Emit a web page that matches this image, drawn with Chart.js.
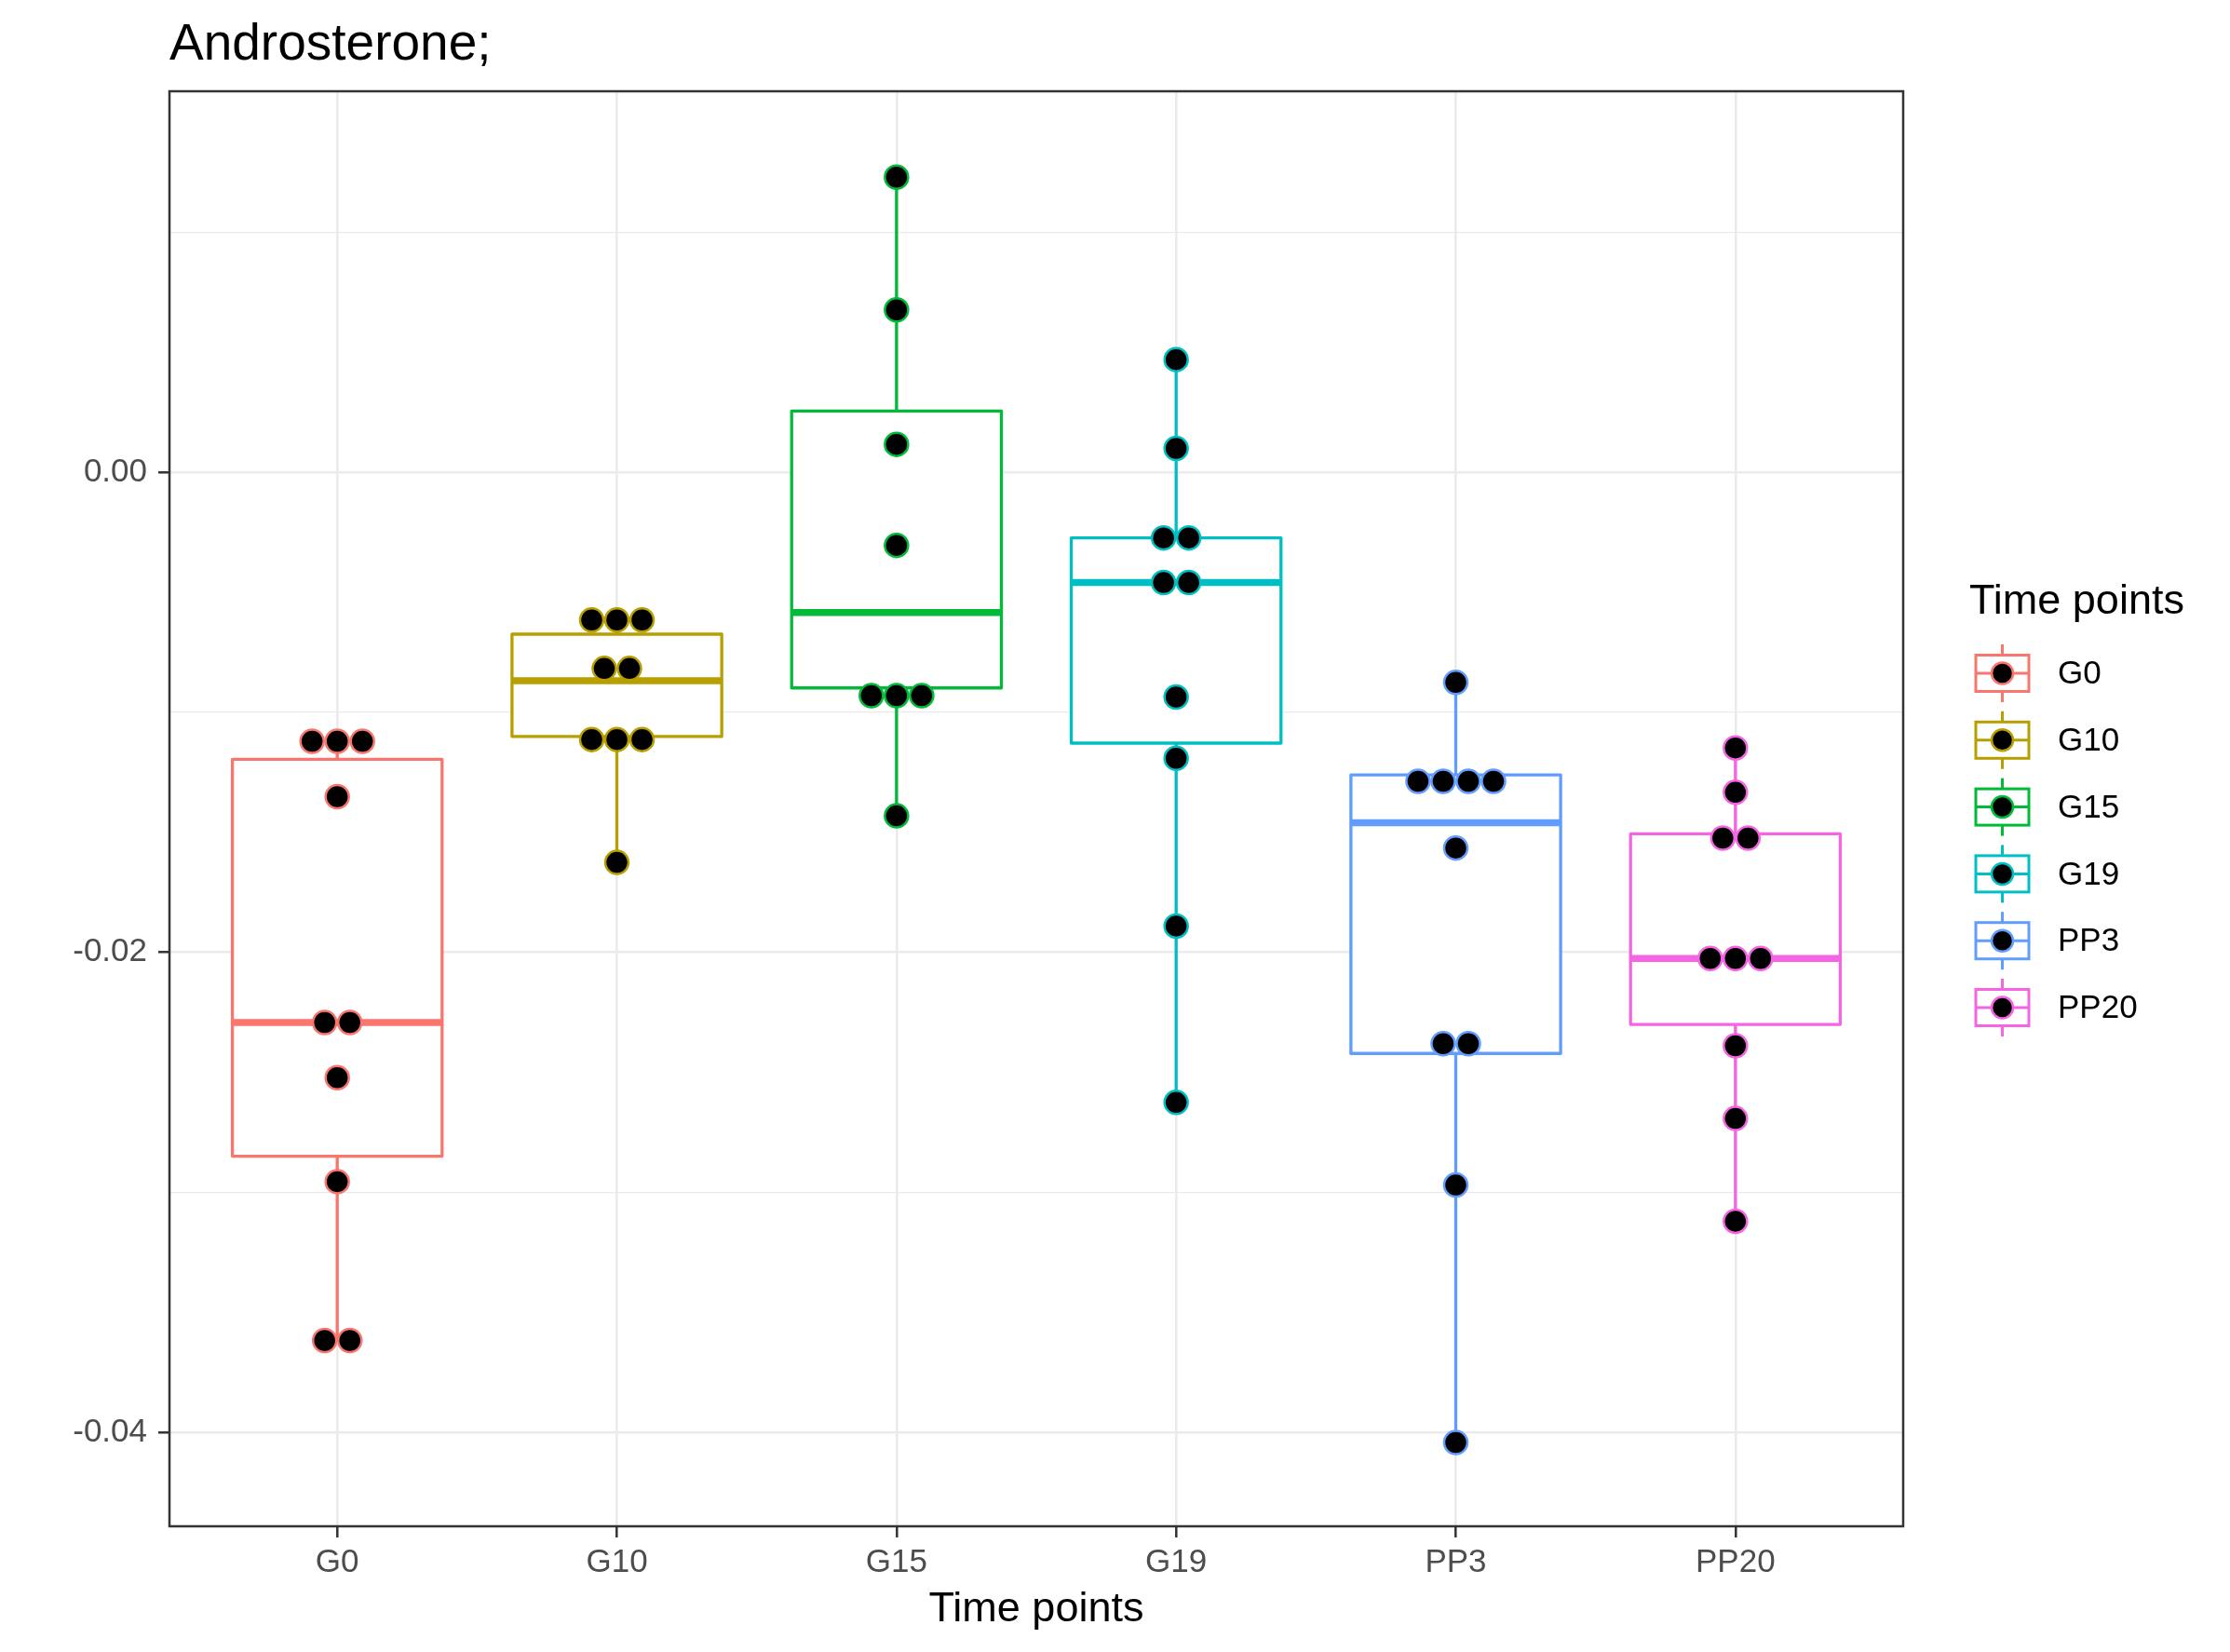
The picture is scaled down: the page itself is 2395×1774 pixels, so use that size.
<!DOCTYPE html>
<html>
<head>
<meta charset="utf-8">
<title>Androsterone;</title>
<script src="https://cdn.jsdelivr.net/npm/chart.js@4.4.1/dist/chart.umd.min.js"></script>
<style>
	body { margin: 0; background: #fff; }
	#wrap { width: 2395px; height: 1774px; }
</style>
</head>
<body>
<div id="wrap"><canvas id="boxChart" width="2395" height="1774"></canvas></div>
<script>
// categories and colours (ggplot hue palette)
const groups = ["G0", "G10", "G15", "G19", "PP3", "PP20"];
const groupColors = ["#F8766D", "#B79F00", "#00BA38", "#00BFC4", "#619CFF", "#F564E3"];

// box statistics
const boxMin = [-0.03618, -0.01626, -0.01432, -0.02626, -0.04043, -0.03121];
const boxQ1 = [-0.0285, -0.01101, -0.00899, -0.01129, -0.02422, -0.02301];
const boxMedian = [-0.02293, -0.00869, -0.00585, -0.0046, -0.01461, -0.02026];
const boxQ3 = [-0.01196, -0.00675, 0.00255, -0.00274, -0.01261, -0.01507];
const boxMax = [-0.01121, -0.00616, 0.01229, 0.00469, -0.00876, -0.01149];

// dot plot values per group (binned values repeat)
const dotsG0 = [-0.01121, -0.01121, -0.01121, -0.01352, -0.02293, -0.02293, -0.02523, -0.02956, -0.03618, -0.03618];
const dotsG10 = [-0.00616, -0.00616, -0.00616, -0.00818, -0.00818, -0.01114, -0.01114, -0.01114, -0.01626];
const dotsG15 = [0.01229, 0.00676, 0.00116, -0.00305, -0.00931, -0.00931, -0.00931, -0.01432];
const dotsG19 = [0.00469, 0.00099, -0.00274, -0.00274, -0.0046, -0.0046, -0.00937, -0.01192, -0.01891, -0.02626];
const dotsPP3 = [-0.00876, -0.01288, -0.01288, -0.01288, -0.01288, -0.01566, -0.02381, -0.02381, -0.0297, -0.04043];
const dotsPP20 = [-0.01149, -0.01334, -0.01525, -0.01525, -0.02026, -0.02026, -0.02026, -0.0239, -0.02693, -0.03121];
const dotValues = [dotsG0, dotsG10, dotsG15, dotsG19, dotsPP3, dotsPP20];

// y axis ticks
const yMajorTicks = [-0.04, -0.02, 0.0];
const yMajorLabels = ["-0.04", "-0.02", "0.00"];
const yMinorTicks = [-0.03, -0.01, 0.01];
const yRange = [-0.04392, 0.01587];

const FONT = "'Liberation Sans', Arial, Helvetica, sans-serif";
const BOX_WIDTH = 0.75;
const DOT_STEP = 0.09;

function stackDots(values, index) {
	const counts = {};
	values.forEach((v) => (counts[v] = (counts[v] || 0) + 1));
	const seen = {};
	return values.map((v) => {
		const k = seen[v] || 0;
		seen[v] = k + 1;
		const offset = (k - (counts[v] - 1) / 2) * DOT_STEP;
		return { x: index + 1 + offset, y: v };
	});
}

const boxPlugin = {
	id: "boxes",
	beforeDatasetsDraw(chart) {
		const { ctx, chartArea, scales } = chart;
		const xs = scales.x;
		const ys = scales.y;
		ctx.save();
		ctx.beginPath();
		ctx.rect(chartArea.left, chartArea.top, chartArea.right - chartArea.left, chartArea.bottom - chartArea.top);
		ctx.clip();
		groups.forEach((g, i) => {
			const cx = xs.getPixelForValue(i + 1);
			const x0 = xs.getPixelForValue(i + 1 - BOX_WIDTH / 2);
			const x1 = xs.getPixelForValue(i + 1 + BOX_WIDTH / 2);
			const yMin = ys.getPixelForValue(boxMin[i]);
			const yQ1 = ys.getPixelForValue(boxQ1[i]);
			const yMed = ys.getPixelForValue(boxMedian[i]);
			const yQ3 = ys.getPixelForValue(boxQ3[i]);
			const yMax = ys.getPixelForValue(boxMax[i]);
			ctx.strokeStyle = groupColors[i];
			ctx.lineWidth = 3.3;
			ctx.beginPath();
			ctx.moveTo(cx, yQ3);
			ctx.lineTo(cx, yMax);
			ctx.moveTo(cx, yQ1);
			ctx.lineTo(cx, yMin);
			ctx.stroke();
			ctx.fillStyle = "#ffffff";
			ctx.fillRect(x0, yQ3, x1 - x0, yQ1 - yQ3);
			ctx.lineJoin = "round";
			ctx.strokeRect(x0, yQ3, x1 - x0, yQ1 - yQ3);
			ctx.lineWidth = 7.5;
			ctx.beginPath();
			ctx.moveTo(x0, yMed);
			ctx.lineTo(x1, yMed);
			ctx.stroke();
		});
		ctx.restore();
	},
	afterDatasetsDraw(chart) {
		const { ctx, chartArea } = chart;
		ctx.save();
		ctx.strokeStyle = "#333333";
		ctx.lineWidth = 2.5;
		ctx.strokeRect(chartArea.left, chartArea.top, chartArea.right - chartArea.left, chartArea.bottom - chartArea.top);
		ctx.restore();
	},
	afterDraw(chart) {
		// legend "Time points"
		const ctx = chart.ctx;
		ctx.save();
		ctx.fillStyle = "#000000";
		ctx.font = "45px " + FONT;
		ctx.textAlign = "left";
		ctx.textBaseline = "alphabetic";
		ctx.fillText("Time points", 2115, 659);
		groups.forEach((g, i) => {
			const cy = 723 + i * 71.8;
			const cx = 2150.5;
			ctx.strokeStyle = groupColors[i];
			ctx.lineWidth = 3;
			ctx.beginPath();
			ctx.moveTo(cx, cy - 31);
			ctx.lineTo(cx, cy + 31);
			ctx.stroke();
			ctx.fillStyle = "#ffffff";
			ctx.fillRect(cx - 28.5, cy - 19.5, 57, 39);
			ctx.strokeRect(cx - 28.5, cy - 19.5, 57, 39);
			ctx.beginPath();
			ctx.moveTo(cx - 28.5, cy);
			ctx.lineTo(cx + 28.5, cy);
			ctx.stroke();
			ctx.beginPath();
			ctx.arc(cx, cy, 11.5, 0, Math.PI * 2);
			ctx.fillStyle = "#000000";
			ctx.fill();
			ctx.lineWidth = 2.5;
			ctx.stroke();
			ctx.fillStyle = "#000000";
			ctx.font = "35px " + FONT;
			ctx.textBaseline = "middle";
			ctx.fillText(g, 2210, cy + 1.5);
		});
		ctx.restore();
	},
};

const datasets = groups.map((g, i) => ({
	label: g,
	data: stackDots(dotValues[i], i),
	pointRadius: 12.5,
	pointHoverRadius: 12.5,
	pointBackgroundColor: "#000000",
	pointBorderColor: groupColors[i],
	pointBorderWidth: 2.5,
	showLine: false,
}));

const ctx = document.getElementById("boxChart").getContext("2d");

new Chart(ctx, {
	type: "scatter",
	data: { datasets: datasets },
	plugins: [boxPlugin],
	options: {
		responsive: false,
		animation: false,
		devicePixelRatio: 1,
		layout: { padding: { top: 0, left: 0, bottom: 0, right: 351 } },
		plugins: {
			legend: { display: false },
			tooltip: { enabled: false },
			title: {
				display: true,
				text: "Androsterone;",
				align: "start",
				fullSize: false,
				color: "#000000",
				font: { family: FONT, size: 55, weight: "normal" },
				padding: { top: 15.5, bottom: 16.5 },
			},
		},
		scales: {
			x: {
				type: "linear",
				min: 0.4,
				max: 6.6,
				afterBuildTicks: (scale) => {
					scale.ticks = groups.map((g, i) => ({ value: i + 1 }));
				},
				afterFit: (scale) => {
					scale.height = 135;
				},
				border: { display: false },
				grid: {
					color: "#EBEBEB",
					lineWidth: 2.6,
					drawTicks: true,
					tickLength: 12,
					tickWidth: 2.5,
					tickColor: "#333333",
				},
				ticks: {
					padding: 6.5,
					color: "#4D4D4D",
					font: { family: FONT, size: 35 },
					maxRotation: 0,
					callback: (value) => groups[value - 1],
				},
				title: {
					display: true,
					text: "Time points",
					color: "#000000",
					font: { family: FONT, size: 45 },
					padding: { top: 0, bottom: 18.6 },
				},
			},
			y: {
				type: "linear",
				min: yRange[0],
				max: yRange[1],
				afterBuildTicks: (scale) => {
					const all = yMajorTicks.concat(yMinorTicks).sort((a, b) => a - b);
					scale.ticks = all.map((v) => ({ value: v, major: yMajorTicks.includes(v) }));
				},
				afterFit: (scale) => {
					scale.width = 182;
				},
				border: { display: false },
				grid: {
					color: "#EBEBEB",
					lineWidth: (c) => (c.tick && yMajorTicks.includes(c.tick.value) ? 2.6 : 1.3),
					drawTicks: true,
					tickLength: 12,
					tickWidth: 2.5,
					tickColor: (c) => (c.tick && yMajorTicks.includes(c.tick.value) ? "#333333" : "rgba(0,0,0,0)"),
				},
				ticks: {
					padding: 12,
					color: "#4D4D4D",
					font: { family: FONT, size: 35 },
					callback: (value) => {
						const k = yMajorTicks.indexOf(value);
						return k >= 0 ? yMajorLabels[k] : "";
					},
				},
			},
		},
	},
});
</script>
</body>
</html>
